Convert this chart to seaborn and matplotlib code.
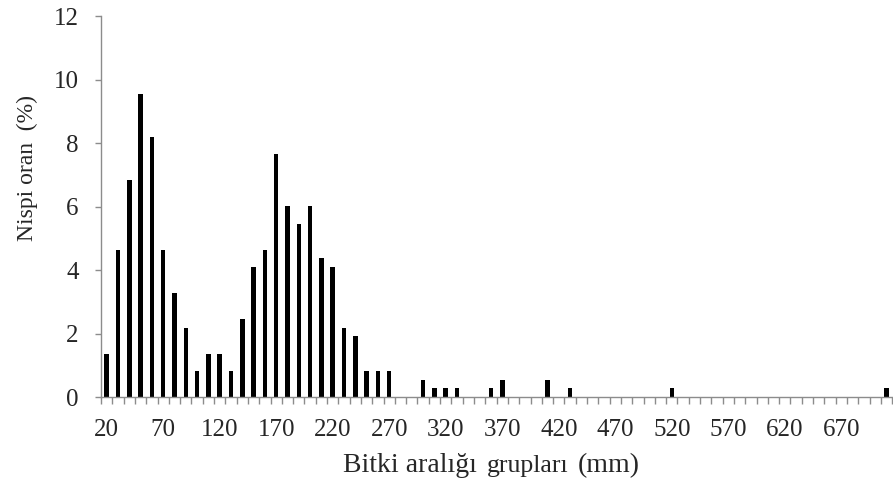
import numpy as np
import pandas as pd
import matplotlib
matplotlib.use("Agg")
import matplotlib.pyplot as plt
import seaborn as sns

# plant spacing groups (mm), 20..710 in steps of 10
groups = [str(g) for g in range(20, 720, 10)]

# relative share (%) of each group
shares = [
    1.37, 4.64, 6.83, 9.56, 8.20, 4.64, 3.28, 2.19, 0.82, 1.37,   # 20-110
    1.37, 0.82, 2.46, 4.10, 4.64, 7.65, 6.01, 5.46, 6.01, 4.37,   # 120-210
    4.10, 2.19, 1.91, 0.82, 0.82, 0.82, 0.00, 0.00, 0.55, 0.27,   # 220-310
    0.27, 0.27, 0.00, 0.00, 0.27, 0.55, 0.00, 0.00, 0.00, 0.55,   # 320-410
    0.00, 0.27, 0.00, 0.00, 0.00, 0.00, 0.00, 0.00, 0.00, 0.00,   # 420-510
    0.27, 0.00, 0.00, 0.00, 0.00, 0.00, 0.00, 0.00, 0.00, 0.00,   # 520-610
    0.00, 0.00, 0.00, 0.00, 0.00, 0.00, 0.00, 0.00, 0.00, 0.27,   # 620-710
]

y_ticks = [0, 2, 4, 6, 8, 10, 12]

sns.set_style("white")
plt.rcParams["font.family"] = ["Liberation Serif", "DejaVu Serif"]

df = pd.DataFrame({"group": groups, "share": shares})

fig = plt.figure(figsize=(8.93, 4.86), dpi=100)
ax = fig.add_axes([0.1131, 0.183, 0.8860, 0.784])

sns.barplot(data=df, x="group", y="share", order=groups, color="black",
            width=0.4, saturation=1, edgecolor="black", linewidth=0, ax=ax)

axis_grey = "#8c8c8c"
ax.set_xlim(-0.5, len(groups) - 0.5)
ax.set_ylim(0, 12)

# labels on every 5th group, tick marks on the group boundaries
ax.set_xticks(range(0, len(groups), 5))
ax.set_xticklabels(groups[::5], fontsize=18)
ax.set_xticks(np.arange(-0.5, len(groups), 1), minor=True)
ax.tick_params(axis="x", which="major", length=0, pad=16)
ax.tick_params(axis="x", which="minor", length=5, width=1, color=axis_grey,
               direction="out", bottom=True)

ax.set_yticks(y_ticks)
ax.set_yticklabels([str(t) for t in y_ticks], fontsize=18)
ax.tick_params(axis="y", length=4, width=1, color=axis_grey, direction="out",
               left=True, pad=12)

for side in ["top", "right"]:
    ax.spines[side].set_visible(False)
for side in ["left", "bottom"]:
    ax.spines[side].set_color(axis_grey)
    ax.spines[side].set_linewidth(1)

ax.set_ylabel("Nispi oran  (%)", fontsize=17)
ax.yaxis.set_label_coords(-0.080, 0.60)

# x label: middle word is set in a smaller size, as in the original
ax.set_xlabel("")
base_y = 14 / 486
fig.text(343 / 893, base_y, "Bitki aralığı", fontsize=20, ha="left", va="baseline")
fig.text(487 / 893, base_y, "grupları", fontsize=18.5, ha="left", va="baseline")
fig.text(578 / 893, base_y, "(mm)", fontsize=20, ha="left", va="baseline")

fig.savefig("out.png", dpi=100)
